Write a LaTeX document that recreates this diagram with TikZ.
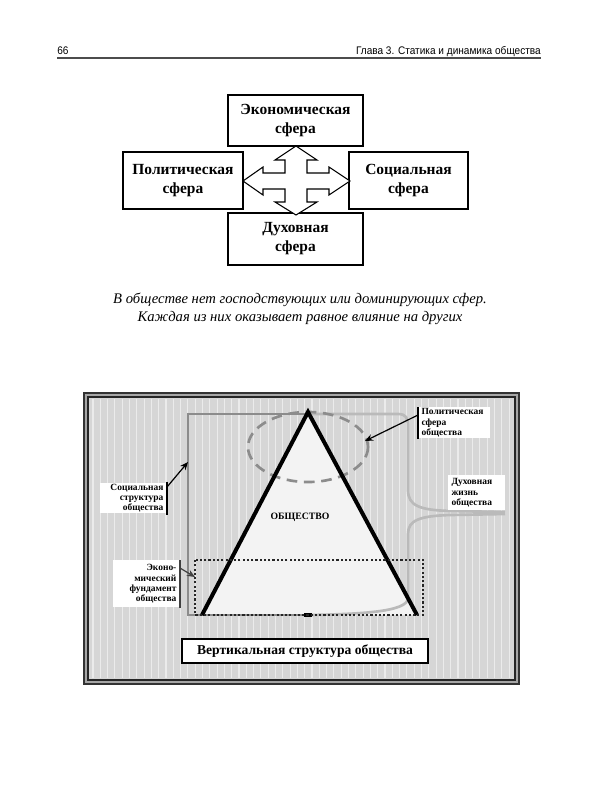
\documentclass[tikz,border=0pt]{standalone}
\usepackage{fontspec}
\setmainfont{Liberation Serif}
\newfontfamily\hdrfont[FakeStretch=0.915]{Liberation Sans}
\usetikzlibrary{arrows.meta}
\definecolor{bgstripe}{HTML}{D6D6D6}
\definecolor{stripeline}{HTML}{EBEBEB}
\definecolor{socgray}{HTML}{8C8C8C}
\definecolor{spirgray}{HTML}{BABABA}
\definecolor{trifill}{HTML}{F3F3F3}
\tikzset{
  sphere/.style={draw=black,line width=1.1pt,fill=white,align=center,inner sep=0pt,
    font=\fontsize{11.6}{14.25}\selectfont\bfseries},
  lab/.style={fill=white,inner xsep=2.5pt,inner ysep=0pt,
    font=\fontsize{7.1}{7.6}\selectfont\bfseries},
  bar/.style={line width=1.2pt,black},
  arr/.style={line width=0.9pt,-{Stealth[length=6pt,width=5pt]}},
  stripe/.style={stripeline,line width=0.8pt}
}
\begin{document}
\begin{tikzpicture}[x=0.75pt,y=-0.75pt]
\path[use as bounding box,fill=white] (0,0) rectangle (600,800);

% header
\node[anchor=base west,inner sep=0,font=\hdrfont\fontsize{8.25}{9}\selectfont] (pg) at (57,54) {66};
\node[anchor=base east,inner sep=0,font=\hdrfont\fontsize{8.25}{9}\selectfont] (hd) at (541,54) {Глава 3. Статика и динамика общества};
\draw[line width=1.5pt,black!70] (57,57.5) -- (541,57.5);

% top diagram
\node[sphere,minimum width=101.25pt,minimum height=38.25pt] (econ) at (295.5,120.5) {Экономическая\\сфера};
\node[sphere,minimum width=90pt,minimum height=42.75pt] (pol) at (183,180.5) {Политическая\\сфера};
\node[sphere,minimum width=89.25pt,minimum height=42.75pt] (soc) at (408.5,180.5) {Социальная\\сфера};
\node[sphere,minimum width=101.25pt,minimum height=39pt] (spir) at (295.5,239) {Духовная\\сфера};

\draw[fill=white,line width=0.8pt,line join=miter]
 (296,146) -- (317,160) -- (307,160) -- (307,173) -- (329,173) -- (329,167) -- (350,181)
 -- (329,195) -- (329,189) -- (307,189) -- (307,202) -- (317,202) -- (296,215)
 -- (275,202) -- (285,202) -- (285,189) -- (263,189) -- (263,195) -- (243,181)
 -- (263,167) -- (263,173) -- (285,173) -- (285,160) -- (275,160) -- cycle;

% caption
\node[align=center,inner sep=0,font=\fontsize{11}{13.5}\selectfont\itshape] (cap) at (300,309)
 {В обществе нет господствующих или доминирующих сфер.\\Каждая из них оказывает равное влияние на других};

% bottom figure frame
\fill[black!80] (83,392) rectangle (520,685);
\fill[black!35] (85,394) rectangle (518,683);
\fill[black!85] (87,396) rectangle (516,681);
\fill[bgstripe] (89,398) rectangle (514,679);
\foreach \x in {93,100.3,...,512} \draw[stripe] (\x,399) -- (\x,678);

% triangle fill
\fill[trifill] (308,412) -- (417,615) -- (202,615) -- cycle;

% social structure line
\draw[socgray,line width=1.6pt] (308,414) -- (188,414) -- (188,615) -- (308,615);
% spiritual life line
\draw[spirgray,line width=2pt] (308,414) -- (398,414) .. controls (406,414) and (408,418) .. (408,426)
  -- (408,490) .. controls (408,506) and (420,510) .. (450,511) -- (505,512);
\draw[spirgray,line width=2pt] (505,514) -- (450,515) .. controls (420,516) and (408,520) .. (408,534)
  -- (408,598) .. controls (408,612) and (360,614) .. (310,615);

% dashed ellipse
\draw[socgray,line width=2pt,dash pattern=on 8pt off 5pt] (308,447) ellipse [x radius=60, y radius=35];

% triangle sides
\draw[black,line width=3pt,line join=miter] (202,615) -- (308,412) -- (417,615);
\draw[black,line width=2.5pt] (304,615) -- (312,615);

% dotted economic rectangle
\draw[black!85,line width=1.8pt,dash pattern=on 1.6pt off 1.6pt] (195,560) rectangle (423,615);

\node[font=\fontsize{7.3}{8}\selectfont\bfseries,inner sep=0] (obsh) at (300,517) {ОБЩЕСТВО};

% labels
\node[lab,anchor=north west,minimum width=54pt,minimum height=23.25pt,text width=49pt,align=left] (lpol) at (418,407)
 {Политическая\\сфера\\общества};
\node[lab,anchor=north west,minimum width=42.75pt,minimum height=26.25pt,text width=37.75pt,align=left] (lspir) at (448,475)
 {Духовная\\жизнь\\общества};
\node[lab,anchor=north east,minimum width=50.25pt,minimum height=22.5pt,text width=45.25pt,align=right] (lsoc) at (167,483)
 {Социальная\\структура\\общества};
\node[lab,anchor=north east,minimum width=50.25pt,minimum height=35.25pt,text width=45.25pt,align=right] (leco) at (180,560)
 {Эконо-\\мический\\фундамент\\общества};

\draw[bar] (lpol.north west) -- (lpol.south west);
\draw[bar] ([yshift=1pt]lsoc.north east) -- ([yshift=-1pt]lsoc.south east);
\draw[bar,black!75] (leco.north east) -- (leco.south east);

\coordinate (polTip) at (365,441);
\coordinate (socTip) at (188,462);
\coordinate (ecoTip) at (195,577);
\draw[arr] ([yshift=-6pt]lpol.north west) -- (polTip);
\draw[arr] ([yshift=-3pt]lsoc.north east) -- (socTip);
\draw[arr,black!75] ([yshift=-6pt]leco.north east) -- (ecoTip);

% title box
\node[draw=black,line width=1.1pt,fill=white,minimum width=184.5pt,minimum height=18pt,inner sep=0,
  font=\fontsize{10.2}{12}\selectfont\bfseries] (title) at (305,651) {Вертикальная структура общества};
\end{tikzpicture}
\end{document}
